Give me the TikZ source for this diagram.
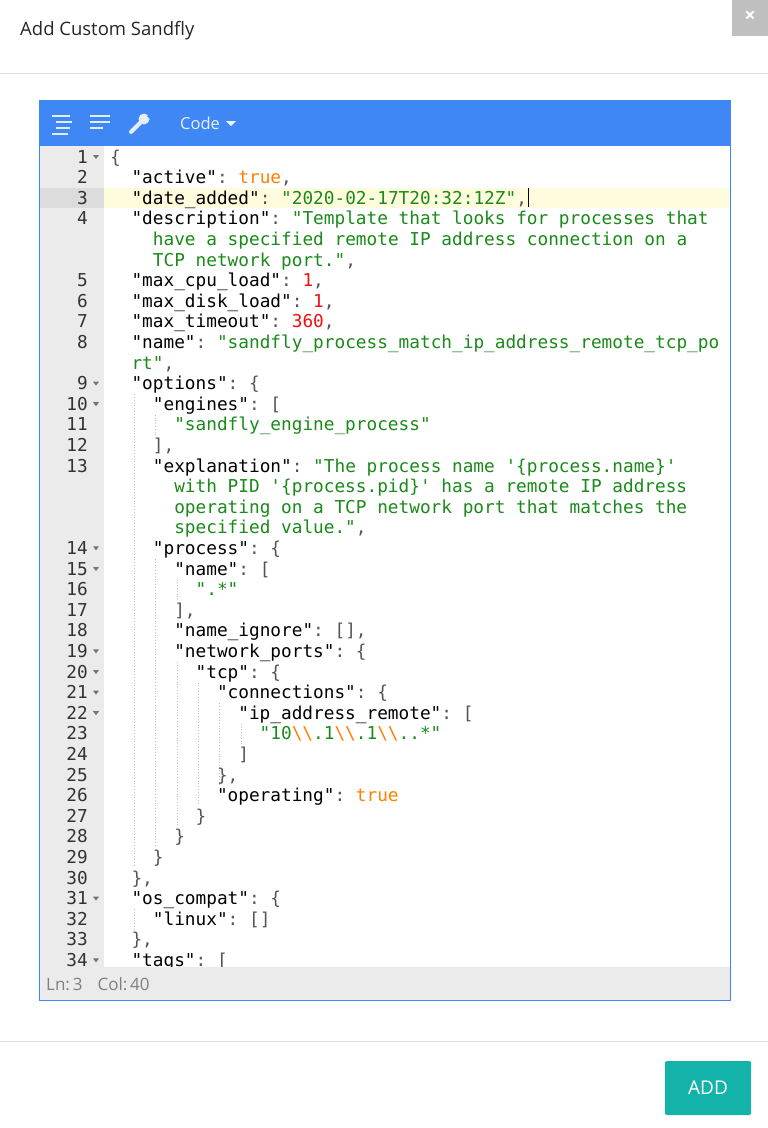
\documentclass[tikz,border=0pt]{standalone}
\usepackage{fontspec}
\setmainfont{Open Sans}
\setmonofont{DejaVu Sans Mono}
\definecolor{tbblue}{HTML}{3F87F5}
\definecolor{gut}{HTML}{EBEBEB}
\definecolor{gutsel}{HTML}{DCDCDC}
\definecolor{hl}{HTML}{FFFBDD}
\definecolor{sgreen}{HTML}{1A8A1A}
\definecolor{sorange}{HTML}{FF7F00}
\definecolor{sred}{HTML}{EE1111}
\definecolor{punct}{HTML}{555555}
\definecolor{teal}{HTML}{13B3A9}
\newcommand\cg[1]{\textcolor{sgreen}{#1}}
\newcommand\co[1]{\textcolor{sorange}{#1}}
\newcommand\cred[1]{\textcolor{sred}{#1}}
\newcommand\cp[1]{\textcolor{punct}{#1}}
\newcommand\bs{\textbackslash\textbackslash}
\tikzset{code/.style={anchor=base west,inner sep=0pt,font=\fontsize{17.75}{20}\ttfamily,text=black},
 lnum/.style={anchor=base east,inner sep=0pt,font=\fontsize{17.75}{20}\ttfamily,text=black!80},
 guide/.style={draw=black!25,dotted,line width=0.8pt}}
\newcommand\row[3]{\node[code] at ({110+10.68*#2},{163+20.6*#1}) {#3};}
\newcommand\lnr[2]{\node[lnum] at (88,{163+20.6*#1}) {#2};}
\newcommand\fold[1]{\fill[black!55] (93,{155+20.6*#1}) -- (99,{155+20.6*#1}) -- (96,{159+20.6*#1}) -- cycle;}
\newcommand\guide[3]{\draw[guide] ({110+10.68*#1+3},{147+20.6*#2}) -- ({110+10.68*#1+3},{167+20.6*#3});}
\begin{document}
\begin{tikzpicture}[x=1pt,y=-1pt]
\useasboundingbox (0,0) rectangle (768,1128);
\fill[white] (0,0) rectangle (768,1128);
% header
\node[anchor=west,inner sep=0pt,font=\fontsize{18.5}{20}\selectfont,text=black!85] (title) at (20,31) {Add Custom Sandfly};
\fill[black!25] (732,0) rectangle (768,36);
\node[text=white,font=\fontsize{20}{20}\bfseries\selectfont] (close) at (750,17) {×};
\draw[black!12,line width=1pt] (0,73) -- (768,73);
% editor
\fill[tbblue] (39,100) rectangle (731,146);
\fill[gut] (40,146) rectangle (104,967);
\fill[gutsel] (40,188) rectangle (104,208);
\fill[hl] (104,188) rectangle (730,208);
% toolbar icons
\begin{scope}[white!85!tbblue,line width=2.2pt]
\draw (52,116) -- (70,116); \draw (56,122) -- (72,122); \draw (56,128) -- (70,128); \draw (52,134) -- (68,134);
\draw (90,116) -- (110,116); \draw (90,122) -- (110,122); \draw (90,128) -- (103,128);
\draw[line width=4pt,line cap=round] (131,132) -- (142,121);
\fill (144,119) circle (5.5pt);
\fill[tbblue] (147,116) -- (151,112) -- (153,114) -- (149,118) -- cycle;
\end{scope}
\node[anchor=west,inner sep=0pt,text=white!90!tbblue,font=\fontsize{16.5}{18}\selectfont] (codemenu) at (180,123) {Code};
\fill[white!90!tbblue] (226,121) -- (236,121) -- (231,126) -- cycle;
% indent guides
\guide{2}{12}{34}
\guide{4}{13}{13}
\guide{4}{20}{33}
\guide{6}{21}{21}
\guide{6}{25}{32}
\guide{8}{26}{31}
\guide{10}{27}{30}
\guide{12}{28}{28}
\guide{2}{37}{37}
% line numbers
\lnr{0}{1}\lnr{1}{2}\lnr{2}{3}\lnr{3}{4}\lnr{6}{5}\lnr{7}{6}\lnr{8}{7}\lnr{9}{8}
\lnr{11}{9}\lnr{12}{10}\lnr{13}{11}\lnr{14}{12}\lnr{15}{13}\lnr{19}{14}\lnr{20}{15}
\lnr{21}{16}\lnr{22}{17}\lnr{23}{18}\lnr{24}{19}\lnr{25}{20}\lnr{26}{21}\lnr{27}{22}
\lnr{28}{23}\lnr{29}{24}\lnr{30}{25}\lnr{31}{26}\lnr{32}{27}\lnr{33}{28}\lnr{34}{29}
\lnr{35}{30}\lnr{36}{31}\lnr{37}{32}\lnr{38}{33}\lnr{39}{34}
\fold{0}\fold{11}\fold{12}\fold{19}\fold{20}\fold{24}\fold{25}\fold{26}\fold{27}\fold{36}\fold{39}
% code
\row{0}{0}{\cp{\{}}
\row{1}{2}{"active"\cp{:} \co{true}\cp{,}}
\row{2}{2}{"date\_added"\cp{:} \cg{"2020-02-17T20:32:12Z"}\cp{,}}
\fill[black] (527.5,188) rectangle (529.1,207);
\row{3}{2}{"description"\cp{:} \cg{"Template that looks for processes that}}
\row{4}{4}{\cg{have a specified remote IP address connection on a}}
\row{5}{4}{\cg{TCP network port."}\cp{,}}
\row{6}{2}{"max\_cpu\_load"\cp{:} \cred{1}\cp{,}}
\row{7}{2}{"max\_disk\_load"\cp{:} \cred{1}\cp{,}}
\row{8}{2}{"max\_timeout"\cp{:} \cred{360}\cp{,}}
\row{9}{2}{"name"\cp{:} \cg{"sandfly\_process\_match\_ip\_address\_remote\_tcp\_po}}
\row{10}{2}{\cg{rt"}\cp{,}}
\row{11}{2}{"options"\cp{: \{}}
\row{12}{4}{"engines"\cp{: [}}
\row{13}{6}{\cg{"sandfly\_engine\_process"}}
\row{14}{4}{\cp{],}}
\row{15}{4}{"explanation"\cp{:} \cg{"The process name '\{process.name\}'}}
\row{16}{6}{\cg{with PID '\{process.pid\}' has a remote IP address}}
\row{17}{6}{\cg{operating on a TCP network port that matches the}}
\row{18}{6}{\cg{specified value."}\cp{,}}
\row{19}{4}{"process"\cp{: \{}}
\row{20}{6}{"name"\cp{: [}}
\row{21}{8}{\cg{".*"}}
\row{22}{6}{\cp{],}}
\row{23}{6}{"name\_ignore"\cp{: [],}}
\row{24}{6}{"network\_ports"\cp{: \{}}
\row{25}{8}{"tcp"\cp{: \{}}
\row{26}{10}{"connections"\cp{: \{}}
\row{27}{12}{"ip\_address\_remote"\cp{: [}}
\row{28}{14}{\cg{"10}\co{\bs}\cg{.1}\co{\bs}\cg{.1}\co{\bs}\cg{..*"}}
\row{29}{12}{\cp{]}}
\row{30}{10}{\cp{\},}}
\row{31}{10}{"operating"\cp{:} \co{true}}
\row{32}{8}{\cp{\}}}
\row{33}{6}{\cp{\}}}
\row{34}{4}{\cp{\}}}
\row{35}{2}{\cp{\},}}
\row{36}{2}{"os\_compat"\cp{: \{}}
\row{37}{4}{"linux"\cp{: []}}
\row{38}{2}{\cp{\},}}
\row{39}{2}{"tags"\cp{: [}}
% status bar
\fill[gut] (40,967) rectangle (730,1000);
\node[anchor=west,inner sep=0pt,text=black!50,font=\fontsize{17}{18}\selectfont] (status) at (46,984) {Ln:\,3\hspace{15pt}Col:\,40};
\draw[tbblue,line width=1pt] (39.5,100.5) rectangle (730.5,1000.5);
% footer
\draw[black!12,line width=1pt] (0,1041) -- (768,1041);
\fill[teal,rounded corners=2pt] (665,1061) rectangle (751,1115);
\node[text=white,font=\fontsize{19}{20}\selectfont] (add) at (708,1088) {ADD};
\end{tikzpicture}
\end{document}
